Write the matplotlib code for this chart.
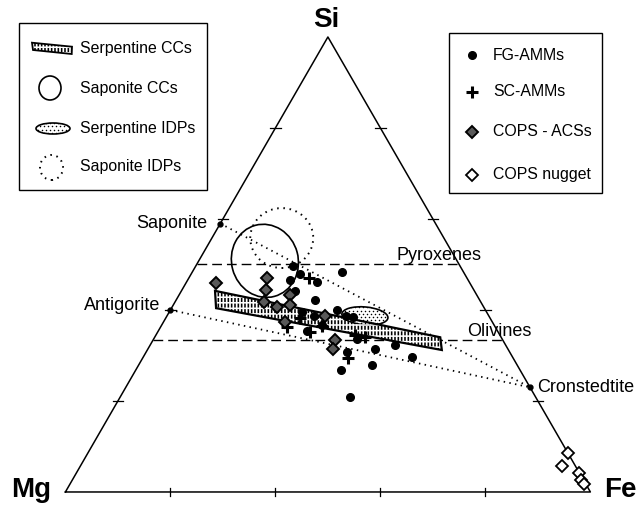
import numpy as np
import matplotlib.pyplot as plt
from matplotlib.patches import Polygon, Ellipse, Rectangle

plt.rcParams['font.family'] = ['Liberation Sans', 'DejaVu Sans']
plt.rcParams['hatch.linewidth'] = 1.15

# atomic % Si and Fe (Mg is the rest)
fg_si = [49.7, 46.6, 47.9, 46.2, 48.4, 44.2, 42.1, 39.9, 39.6, 38.6, 38.7, 38.5,
         35.4, 36.7, 33.6, 31.4, 32.3, 29.7, 28.0, 26.7, 30.8, 20.8]
fg_fe = [18.5, 19.5, 20.7, 24.9, 28.5, 21.6, 26.5, 31.8, 25.3, 28.0, 34.1, 35.6,
         28.3, 30.5, 38.7, 43.3, 46.6, 51.1, 44.4, 39.1, 38.3, 43.9]

sc_si = [47.1, 38.2, 36.3, 35.2, 36.5, 34.5, 34.1, 29.4]
sc_fe = [22.8, 25.6, 24.1, 29.0, 30.6, 37.9, 40.0, 39.2]

acs_si = [45.9, 47.0, 44.3, 41.8, 40.7, 43.3, 41.0, 37.4, 38.6, 33.3, 31.4]
acs_fe = [5.7, 14.9, 16.0, 16.9, 19.9, 21.2, 22.2, 23.2, 30.2, 34.7, 35.2]

nug_si = [8.5, 5.7, 4.1, 2.6, 1.7]
nug_fe = [91.4, 91.7, 95.8, 97.0, 97.9]

phase_names = ['Saponite', 'Antigorite', 'Cronstedtite']
phase_si = [59.0, 40.0, 23.0]
phase_fe = [0.0, 0.0, 77.0]

# serpentine CC field (corners)
band_si = [44.2, 34.0, 31.2, 40.4]
band_fe = [6.4, 54.4, 56.1, 8.5]

# ellipse fields: centre Si, Fe
sapcc_c = (50.8, 12.6)
sapidp_c = (55.8, 13.3)
serpidp_c = (38.7, 37.7)

pyroxene_si = 50.0
olivine_si = 100 / 3


def tern(si, fe):
    si = np.asarray(si, float) / 100
    fe = np.asarray(fe, float) / 100
    return fe + si / 2, si * np.sqrt(3) / 2


def px(x, y):
    # pixel position -> axes fraction
    return x / 639, 1 - y / 509


H = np.sqrt(3) / 2

fig = plt.figure(figsize=(6.39, 5.09), dpi=100)
ax = fig.add_axes([0, 0, 1, 1])
ax.set_xlim(-0.1246, 1.0926)
ax.set_ylim(-0.0324, 0.9364)
ax.axis('off')
ta = ax.transAxes


def dashed_field(verts, transform, z, lw=1.6):
    # vertical hatch broken up by white horizontal hatch -> short dashes
    ax.add_patch(Polygon(verts, closed=True, transform=transform, fc='white', ec='k',
                         lw=0, hatch='|||||', zorder=z))
    ax.add_patch(Polygon(verts, closed=True, transform=transform, fc='none', ec='white',
                         lw=0, hatch='---', zorder=z + 0.05))
    ax.add_patch(Polygon(verts, closed=True, transform=transform, fc='none', ec='k',
                         lw=lw, zorder=z + 0.1))


def dot_fill(patch, x0, x1, y0, y1, dx, dy, transform):
    xs = np.arange(x0, x1, dx)
    ys = np.arange(y0, y1, dy)
    xx, yy = np.meshgrid(xs, ys)
    xx = xx + (np.arange(len(ys))[:, None] % 2) * dx / 2
    ln, = ax.plot(xx.ravel(), yy.ravel(), ls='none', marker='o', ms=1.1, mew=0,
                  color='k', transform=transform, zorder=patch.get_zorder() + 0.1)
    ln.set_clip_path(patch)


# triangle frame + ticks every 20 %
ax.plot([0, 1, 0.5, 0], [0, 0, H, 0], color='k', lw=1.1, zorder=3)
for f in [0.2, 0.4, 0.6, 0.8]:
    ax.plot([f, f], [-0.008, 0.008], color='k', lw=0.9)
    ax.plot([f / 2 - 0.01, f / 2 + 0.01], [f * H, f * H], color='k', lw=0.9)
    ax.plot([1 - f / 2 - 0.01, 1 - f / 2 + 0.01], [f * H, f * H], color='k', lw=0.9)

ax.text(*px(326, 20), 'Si', transform=ta, ha='center', va='center', fontsize=20, fontweight='bold')
ax.text(*px(31, 490), 'Mg', transform=ta, ha='center', va='center', fontsize=20, fontweight='bold')
ax.text(*px(620, 490), 'Fe', transform=ta, ha='center', va='center', fontsize=20, fontweight='bold')

# pyroxene / olivine Si levels
for s in [pyroxene_si, olivine_si]:
    sx, sy = tern([s, s], [0, 100 - s])
    ax.plot(sx, sy, color='k', lw=1.0, ls=(0, (7, 3.6)), zorder=2)
ax.text(*px(439, 256), 'Pyroxenes', transform=ta, ha='center', va='center', fontsize=13)
ax.text(*px(499, 331), 'Olivines', transform=ta, ha='center', va='center', fontsize=13)

# mixing lines toward cronstedtite
for i in [0, 1]:
    lx, ly = tern([phase_si[i], phase_si[2]], [phase_fe[i], phase_fe[2]])
    ax.plot(lx, ly, color='k', lw=1.3, ls=(0, (0.8, 2.4)), zorder=2)

phx, phy = tern(phase_si, phase_fe)
ax.plot(phx, phy, 'o', color='k', ms=3.5, zorder=5)
ax.text(phx[0] - 0.024, phy[0], phase_names[0], ha='right', va='center', fontsize=13)
ax.text(phx[1] - 0.019, phy[1] + 0.008, phase_names[1], ha='right', va='center', fontsize=13)
ax.text(phx[2] + 0.013, phy[2], phase_names[2], ha='left', va='center', fontsize=13)

# serpentine CCs field
bx, by = tern(band_si, band_fe)
dashed_field(np.column_stack([bx, by]), ax.transData, 4)

# saponite CCs / IDPs, serpentine IDPs
cx, cy = tern(*sapcc_c)
ax.add_patch(Ellipse((cx, cy), 0.127, 0.14, angle=15, fc='none', ec='k', lw=1.2, zorder=4))
cx, cy = tern(*sapidp_c)
ax.add_patch(Ellipse((cx, cy), 0.12, 0.114, fc='none', ec='k', lw=1.4, ls=(0, (0.8, 2.4)), zorder=4))
cx, cy = tern(*serpidp_c)
serp = Ellipse((cx, cy), 0.088, 0.034, angle=-5, fc='white', ec='k', lw=1.2, zorder=4)
ax.add_patch(serp)
dot_fill(serp, cx - 0.05, cx + 0.05, cy - 0.02, cy + 0.02, 0.0076, 0.006, ax.transData)

# samples
x, y = tern(fg_si, fg_fe)
ax.plot(x, y, 'o', color='k', ms=5.5, zorder=6)
x, y = tern(sc_si, sc_fe)
ax.plot(x, y, '+', color='k', ms=9, mew=2.2, zorder=6)
x, y = tern(acs_si, acs_fe)
ax.plot(x, y, 'D', mfc='0.35', mec='k', ms=6, mew=1.4, zorder=7)
x, y = tern(nug_si, nug_fe)
ax.plot(x, y, 'D', mfc='white', mec='k', ms=6.5, mew=1.3, zorder=7)

# legend: fields
x0, y0 = px(19, 190)
x1, y1 = px(207, 23)
ax.add_patch(Rectangle((x0, y0), x1 - x0, y1 - y0, transform=ta, fc='white', ec='k', lw=1.0, zorder=8))
dashed_field([px(32, 42.7), px(72, 46.7), px(71.7, 54), px(33, 50)], ta, 9, lw=1.3)
ax.add_patch(Ellipse(px(50, 88), 22 / 639, 24 / 509, transform=ta, fc='none', ec='k', lw=1.2, zorder=9))
lg = Ellipse(px(53, 128.5), 34 / 639, 11 / 509, transform=ta, fc='white', ec='k', lw=1.2, zorder=9)
ax.add_patch(lg)
lx0, ly0 = px(34, 136)
lx1, ly1 = px(72, 121)
dot_fill(lg, lx0, lx1, ly0, ly1, 4 / 639, 3.2 / 509, ta)
ax.add_patch(Ellipse(px(51.5, 167.5), 23 / 639, 25 / 509, transform=ta, fc='none', ec='k', lw=1.4,
                     ls=(0, (0.8, 2.4)), zorder=9))
for lab, yy in zip(['Serpentine CCs', 'Saponite CCs', 'Serpentine IDPs', 'Saponite IDPs'], [48, 88, 128, 167]):
    ax.text(*px(80, yy), lab, transform=ta, ha='left', va='center', fontsize=11.4, zorder=10)

# legend: samples
x0, y0 = px(449, 193)
x1, y1 = px(602, 33)
ax.add_patch(Rectangle((x0, y0), x1 - x0, y1 - y0, transform=ta, fc='white', ec='k', lw=1.0, zorder=8))
styles = [dict(marker='o', color='k', ms=5.5),
          dict(marker='+', color='k', ms=9, mew=2.2),
          dict(marker='D', mfc='0.35', mec='k', ms=6, mew=1.4),
          dict(marker='D', mfc='white', mec='k', ms=6.5, mew=1.3)]
for lab, yy, st in zip(['FG-AMMs', 'SC-AMMs', 'COPS - ACSs', 'COPS nugget'], [55, 92, 132, 175], styles):
    mx, my = px(472, yy)
    ax.plot([mx], [my], ls='none', transform=ta, zorder=9, **st)
    ax.text(*px(493, yy), lab, transform=ta, ha='left', va='center', fontsize=11.4, zorder=10)

fig.savefig('out.png', dpi=100)
